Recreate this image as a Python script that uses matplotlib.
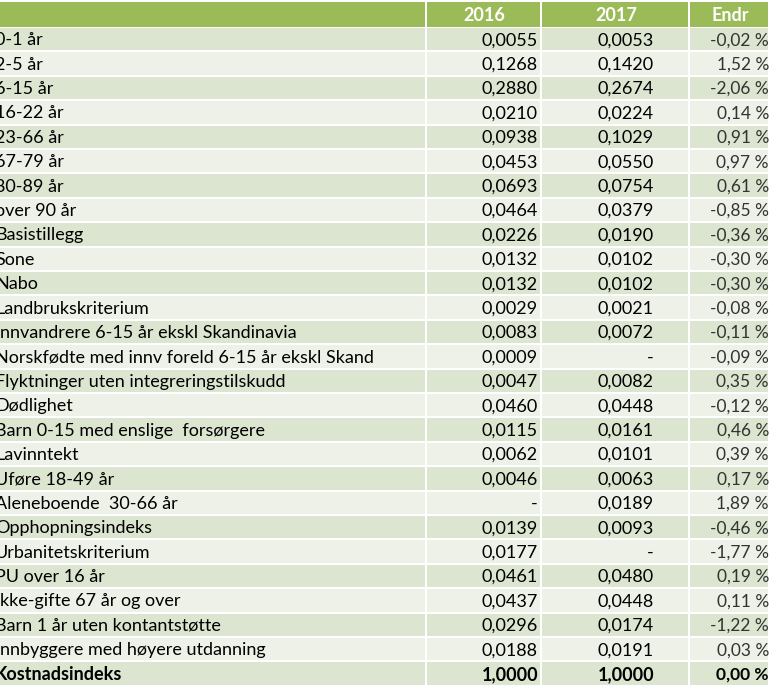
import matplotlib
matplotlib.use("Agg")
import matplotlib.pyplot as plt
from matplotlib.patches import Rectangle

# table content
labels = ["0-1 år", "2-5 år", "6-15 år", "16-22 år", "23-66 år", "67-79 år", "80-89 år",
          "over 90 år", "Basistillegg", "Sone", "Nabo", "Landbrukskriterium",
          "Innvandrere 6-15 år ekskl Skandinavia",
          "Norskfødte med innv foreld 6-15 år ekskl Skand",
          "Flyktninger uten integreringstilskudd", "Dødlighet",
          "Barn 0-15 med enslige  forsørgere", "Lavinntekt", "Uføre 18-49 år",
          "Aleneboende  30-66 år", "Opphopningsindeks", "Urbanitetskriterium",
          "PU over 16 år", "Ikke-gifte 67 år og over", "Barn 1 år uten kontantstøtte",
          "Innbyggere med høyere utdanning", "Kostnadsindeks"]
v2016 = ["0,0055", "0,1268", "0,2880", "0,0210", "0,0938", "0,0453", "0,0693", "0,0464",
         "0,0226", "0,0132", "0,0132", "0,0029", "0,0083", "0,0009", "0,0047", "0,0460",
         "0,0115", "0,0062", "0,0046", "-", "0,0139", "0,0177", "0,0461", "0,0437",
         "0,0296", "0,0188", "1,0000"]
v2017 = ["0,0053", "0,1420", "0,2674", "0,0224", "0,1029", "0,0550", "0,0754", "0,0379",
         "0,0190", "0,0102", "0,0102", "0,0021", "0,0072", "-", "0,0082", "0,0448",
         "0,0161", "0,0101", "0,0063", "0,0189", "0,0093", "-", "0,0480", "0,0448",
         "0,0174", "0,0191", "1,0000"]
endr = ["-0,02 %", "1,52 %", "-2,06 %", "0,14 %", "0,91 %", "0,97 %", "0,61 %", "-0,85 %",
        "-0,36 %", "-0,30 %", "-0,30 %", "-0,08 %", "-0,11 %", "-0,09 %", "0,35 %",
        "-0,12 %", "0,46 %", "0,39 %", "0,17 %", "1,89 %", "-0,46 %", "-1,77 %",
        "0,19 %", "0,11 %", "-1,22 %", "0,03 %", "0,00 %"]
headers = ["", "2016", "2017", "Endr"]

W, H = 773, 686
col_edges = [-10, 427, 542, 690, 770]
top, hdr_h, row_h = 2, 25, 24.4
green, dark, light = "#9bbb59", "#dbe5d0", "#edf1e8"
font = ["Lato", "DejaVu Sans"]
fs = 13

fig = plt.figure(figsize=(W / 100, H / 100), dpi=100)
ax = fig.add_axes([0, 0, 1, 1])
ax.set_xlim(0, W)
ax.set_ylim(H, 0)
ax.axis("off")

# header
for c in range(4):
    x0, x1 = col_edges[c], col_edges[c + 1]
    ax.add_patch(Rectangle((x0, top), x1 - x0 - 2, hdr_h, color=green, lw=0))
    ax.text((x0 + x1) / 2, top + hdr_h / 2 + 1, headers[c], ha="center", va="center",
            color="white", fontsize=fs, fontweight="bold", family=font)

# body rows
y0 = top + hdr_h + 1
for i, lab in enumerate(labels):
    y = y0 + i * row_h
    fc = dark if i % 2 == 0 else light
    for c in range(4):
        x0, x1 = col_edges[c], col_edges[c + 1]
        ax.add_patch(Rectangle((x0, y), x1 - x0 - 2, row_h - 2, color=fc, lw=0))
    total = i == len(labels) - 1
    wt = "bold" if total else "normal"
    yc = y + row_h / 2
    # the first column is clipped at the left edge, as in the source screenshot
    ax.text(-5, yc, lab, ha="left", va="center", fontsize=fs, fontweight=wt,
            family=font, color="black")
    ax.text(538, yc, v2016[i], ha="right", va="center", fontsize=fs, fontweight=wt,
            family=font)
    ax.text(654, yc, v2017[i], ha="right", va="center", fontsize=fs, fontweight=wt,
            family=font)
    ax.text(769, yc, endr[i], ha="right", va="center", fontsize=12.5,
            fontweight=wt, family=font, color="black" if total else "#333333")

fig.savefig("out.png", dpi=100, facecolor="white")
